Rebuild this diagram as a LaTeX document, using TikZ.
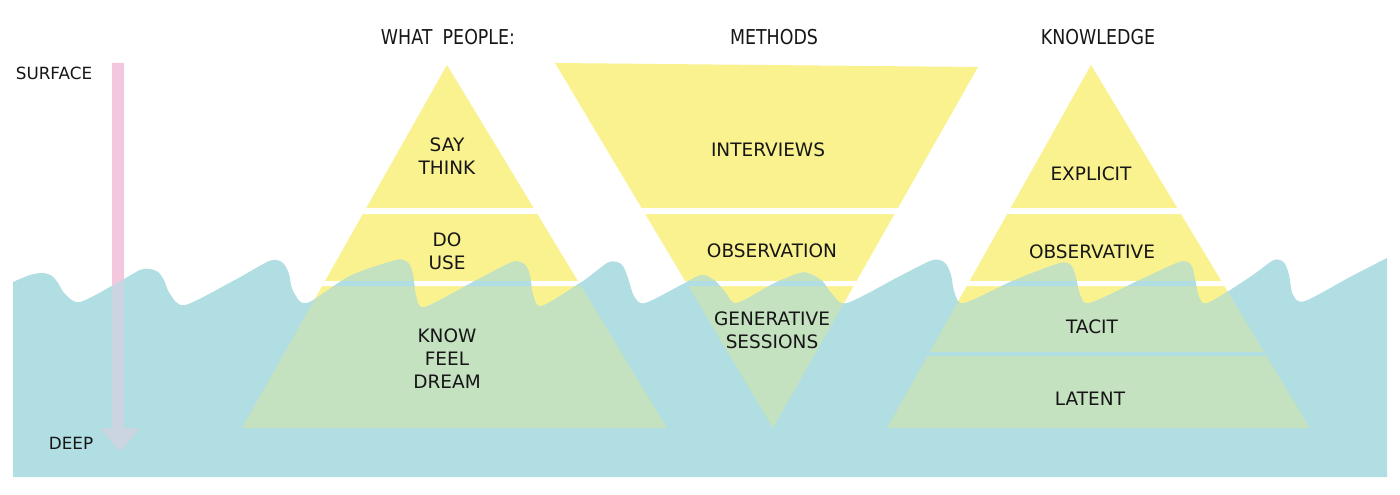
\documentclass[tikz,border=0pt]{standalone}
\usepackage{fontspec}
\setmainfont{DejaVu Sans}
\newfontfamily\headfont[FakeStretch=0.85]{DejaVu Sans}
\definecolor{yel}{RGB}{249,242,142}
\definecolor{sea}{RGB}{176,222,227}
\definecolor{sub}{RGB}{196,225,192}
\definecolor{pnk}{RGB}{243,200,222}
\definecolor{ink}{RGB}{22,22,22}
\def\wavepath{(13,477) -- plot[smooth,tension=0.5] coordinates {(13,282) (30,275) (43,273) (52,276) (58,283) (65,294) (80,302)
 (117,283) (140,270) (150,269) (158,272) (164,280) (170,294) (185,305)
 (233,281) (267,262) (277,260) (284,264) (289,274) (293,291) (307,303)
 (350,276) (393,261) (403,260) (409,264) (413,275) (416,296) (425,307)
 (475,281) (510,263) (520,262) (526,266) (530,276) (533,295) (542,306)
 (583,281) (607,263) (617,262) (623,266) (628,278) (634,296) (645,303)
 (683,284) (702,275) (715,281) (725,292) (737,303)
 (775,283) (800,273) (810,274) (822,281) (832,294) (847,303)
 (900,276) (930,261) (940,260) (946,264) (951,275) (955,294) (965,303)
 (1015,280) (1057,264) (1067,263) (1072,267) (1076,278) (1080,295) (1090,303)
 (1140,280) (1177,263) (1187,262) (1192,267) (1195,280) (1199,297) (1208,303)
 (1250,277) (1272,261) (1280,260) (1285,264) (1289,275) (1293,295) (1305,301)
 (1350,277) (1387,258)} -- (1387,477) -- cycle}
\def\triA{(447,65) -- (667,428) -- (242,428) -- cycle}
\def\triB{(555,63) -- (978,67) -- (773,428) -- cycle}
\def\triC{(1091,65) -- (1310,428) -- (887,428) -- cycle}
\def\bandsTwo{(0,208) rectangle (1400,214) (0,281) rectangle (1400,286)}
\def\bandsThree{(0,208) rectangle (1400,214) (0,281) rectangle (1400,286) (0,352) rectangle (1400,356)}
\def\arrowpath{(112,63) -- (124,63) -- (124,428) -- (140,428) -- (120,452) -- (100,428) -- (112,428) -- cycle}
\begin{document}
\begin{tikzpicture}[x=1pt,y=-1pt,
  lbl/.style={font=\fontsize{18.5}{23}\selectfont, align=center, text=ink, inner sep=0pt},
  head/.style={font=\headfont\fontsize{20.5}{24}\selectfont, text=ink, inner sep=0pt},
  side/.style={font=\fontsize{16.8}{20}\selectfont, text=ink, inner sep=0pt}]
\useasboundingbox (0,0) rectangle (1400,495);
\fill[white] (0,0) rectangle (1400,495);
% depth arrow
\fill[pnk] \arrowpath;
% pyramids above water
\fill[yel] \triA;
\fill[yel] \triB;
\fill[yel] \triC;
\begin{scope}\clip \triA; \fill[white] \bandsTwo; \end{scope}
\begin{scope}\clip \triB; \fill[white] \bandsTwo; \end{scope}
\begin{scope}\clip \triC; \fill[white] \bandsThree; \end{scope}
% water
\fill[sea] \wavepath;
\begin{scope}
  \clip \wavepath;
  \fill[sub] \triA;
  \fill[sub] \triB;
  \fill[sub] \triC;
  \begin{scope}\clip \triA; \fill[sea] \bandsTwo; \end{scope}
  \begin{scope}\clip \triB; \fill[sea] \bandsTwo; \end{scope}
  \begin{scope}\clip \triC; \fill[sea] \bandsThree; \end{scope}
  \fill[pnk,opacity=0.4] \arrowpath;
\end{scope}
% headings
\node[head] (hPeople) at (448,37) {WHAT\hspace{0.5em}PEOPLE:};
\node[head] (hMethods) at (774,37) {METHODS};
\node[head] (hKnow) at (1098,37) {KNOWLEDGE};
% side labels
\node[side] (surface) at (54,73) {SURFACE};
\node[side] (deep) at (71,443) {DEEP};
% pyramid 1
\node[lbl] (say) at (447,156.5) {SAY\\THINK};
\node[lbl] (do) at (447,251.5) {DO\\USE};
\node[lbl] (know) at (447,358.5) {KNOW\\FEEL\\DREAM};
% pyramid 2
\node[lbl] (interviews) at (768,150) {INTERVIEWS};
\node[lbl] (observation) at (772,251) {OBSERVATION};
\node[lbl] (generative) at (772,330) {GENERATIVE\\SESSIONS};
% pyramid 3
\node[lbl] (explicit) at (1091,174) {EXPLICIT};
\node[lbl] (observative) at (1092,252) {OBSERVATIVE};
\node[lbl] (tacit) at (1092,327) {TACIT};
\node[lbl] (latent) at (1090,399) {LATENT};
\end{tikzpicture}
\end{document}
